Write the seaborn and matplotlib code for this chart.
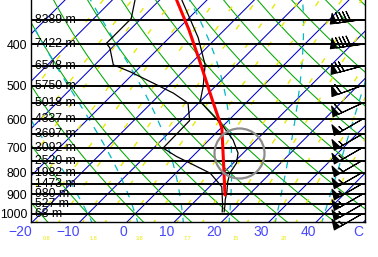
import numpy as np
import pandas as pd
import matplotlib
matplotlib.use("Agg")
import matplotlib.pyplot as plt
import matplotlib.transforms as mtransforms
import seaborn as sns

# ---------------- data ----------------
level_p = [350, 400, 450, 500, 550, 600, 650, 700, 750, 800, 850, 900, 950, 1000]
level_heights = ["8389 m", "7422 m", "6548 m", "5750 m", "5018 m", "4337 m", "3697 m",
                 "3092 m", "2520 m", "1982 m", "1473 m", "980 m", "527 m", "68 m"]
pressure_ticks = [400, 500, 600, 700, 800, 900, 1000]
temp_ticks = [-20, -10, 0, 10, 20, 30, 40, 50]
temp_tick_labels = ["\u221220", "\u221210", "0", "10", "20", "30", "40", "C"]

temp_p = [990, 950, 928, 887, 841, 802, 760, 720, 671, 624, 545, 503, 447, 386, 315]
temp_t = [18.4, 17.0, 16.1, 14.7, 12.8, 11.4, 10.7, 8.9, 5.1, 0.2, -10.0, -12.5, -16.7, -23.9, -35.3]

dew_p = [990, 953, 864, 803, 754, 734, 701, 604, 550, 521, 498, 464, 447, 408, 398, 348, 315]
dew_t = [18.0, 16.6, 12.6, 7.3, -0.1, -3.3, -8.0, -8.2, -12.2, -17.4, -22.7, -31.1, -36.1,
         -40.4, -42.1, -42.1, -45.2]

parcel_p = [903, 748, 629, 541, 440, 370, 315]
parcel_t = [15.0, 7.3, 0.2, -7.7, -18.4, -27.5, -36.4]

marker_p = [720]
marker_t = [9.1]

wind_p = [350, 400, 450, 500, 550, 600, 650, 700, 750, 800, 850, 900, 950, 1000]
wind_spd = [90, 90, 70, 60, 60, 55, 55, 55, 55, 55, 55, 55, 55, 55]
wind_dir = [262, 262, 255, 250, 245, 240, 240, 240, 240, 240, 240, 240, 240, 240]

isotherm_t = list(range(-110, 60, 10))
dry_theta = list(range(-30, 170, 10))
moist_thetaw = [-10, 0, 10, 20, 30, 40]
mixing_w = [0.1, 0.2, 0.3, 0.5, 0.8, 1.2, 1.8, 2.6, 3.8, 5.5, 7.7, 11, 15, 20, 28, 37, 50]
mixing_labels = [0.1, 0.3, 0.8, 1.8, 3.8, 7.7, 15, 28]

# ---------------- geometry helpers ----------------
P_BOT, P_TOP = 1045.0, 314.9
SKEW = 39.1


def skew_x(t, p):
    return np.asarray(t, float) + SKEW * np.log(P_BOT / np.asarray(p, float))


def moist_adiabat(thw, p_grid):
    Rd, cp, Lv, eps = 287.04, 1005.7, 2.501e6, 0.622

    def dTdp(T, p):
        es = 6.112 * np.exp(17.67 * (T - 273.15) / (T - 29.65))
        rs = eps * es / (p - es)
        return (Rd * T + Lv * rs) / (p * (cp + Lv * Lv * rs * eps / (Rd * T * T)))

    T = thw + 273.15
    out = [T]
    for i in range(1, len(p_grid)):
        dp = p_grid[i] - p_grid[i - 1]
        k1 = dTdp(T, p_grid[i - 1])
        k2 = dTdp(T + k1 * dp / 2, p_grid[i - 1] + dp / 2)
        T = T + k2 * dp
        out.append(T)
    return np.array(out) - 273.15


def mixing_dewpoint(w, p):
    e = w / 1000.0 * p / (0.622 + w / 1000.0)
    l = np.log(e / 6.112)
    return 243.5 * l / (17.67 - l)


# ---------------- figure ----------------
sns.set_theme(style="white")
plt.rcParams["font.family"] = ["Liberation Sans", "DejaVu Sans"]

fig = plt.figure(figsize=(3.78, 2.57), dpi=100)
ax = fig.add_axes([30.5 / 378, 35 / 257, 334.5 / 378, 222 / 257])
ax.set_yscale("log")
ax.set_ylim(P_BOT, P_TOP)
ax.set_xlim(-20.4, 50.3)

p_fine = np.geomspace(1060, 300, 200)

# isotherms
for t in isotherm_t:
    ax.plot(skew_x([t, t], [1060, 300]), [1060, 300], color="#0000c8", lw=0.75, zorder=1)

# dry adiabats
for th in dry_theta:
    T = (th + 273.15) * (p_fine / 1000.0) ** 0.2857 - 273.15
    ax.plot(skew_x(T, p_fine), p_fine, color="#00a800", lw=0.75, zorder=1)

# moist adiabats
p_up = np.linspace(1000, 300, 300)
p_dn = np.linspace(1000, 1060, 20)
for thw in moist_thetaw:
    Tu = moist_adiabat(thw, p_up)
    Td = moist_adiabat(thw, p_dn)
    pp = np.concatenate([p_dn[::-1], p_up[1:]])
    tt = np.concatenate([Td[::-1], Tu[1:]])
    ax.plot(skew_x(tt, pp), pp, color="#00b8c0", lw=0.9, dashes=(5.5, 6), zorder=1)

# mixing ratio lines
blend_xa = mtransforms.blended_transform_factory(ax.transData, ax.transAxes)
for w in mixing_w:
    Tm = mixing_dewpoint(w, p_fine)
    ax.plot(skew_x(Tm, p_fine), p_fine, color="#e8e800", lw=1.0, dashes=(4, 13), zorder=1)
for w in mixing_labels:
    xb = float(skew_x(mixing_dewpoint(w, P_BOT), P_BOT))
    if -21 < xb < 50:
        ax.text(xb + 2.2, -0.074, f"{w:g}", color="#e8e800", fontsize=4, ha="center", va="center",
                transform=blend_xa, clip_on=False)

# pressure level lines with heights
blend_ad = mtransforms.blended_transform_factory(ax.transAxes, ax.transData)
for p, h in zip(level_p, level_heights):
    ax.axhline(p, color="black", lw=1.4, zorder=2)
    ax.text(0.0135, p, h, color="black", fontsize=8.8, ha="left", va="center", zorder=3,
            transform=blend_ad)

# profiles via seaborn
df_t = pd.DataFrame({"x": skew_x(temp_t, temp_p), "p": temp_p})
df_d = pd.DataFrame({"x": skew_x(dew_t, dew_p), "p": dew_p})
df_parcel = pd.DataFrame({"x": skew_x(parcel_t, parcel_p), "p": parcel_p})
sns.lineplot(data=df_d, x="x", y="p", sort=False, estimator=None, color="black", lw=0.9, ax=ax, zorder=4)
sns.lineplot(data=df_t, x="x", y="p", sort=False, estimator=None, color="black", lw=0.9, ax=ax, zorder=4)
sns.lineplot(data=df_parcel, x="x", y="p", sort=False, estimator=None, color="#ff0000", lw=2.2, ax=ax, zorder=5)

ax.plot(skew_x(marker_t, marker_p), marker_p, "o", ms=36, mfc="none", mec="#8c8c8c", mew=1.6, zorder=5)

# wind barbs
spd = np.array(wind_spd, float)
dr = np.deg2rad(np.array(wind_dir, float))
u = -spd * np.sin(dr)
v = -spd * np.cos(dr)
ax.barbs(np.full(len(wind_p), 49.7), wind_p, u, v, length=6.8, color="black", linewidth=0.8,
         sizes=dict(spacing=0.11, height=0.32, width=0.2), zorder=6, clip_on=False)

# axes styling
ax.yaxis.set_minor_locator(matplotlib.ticker.NullLocator())
ax.set_yticks(pressure_ticks)
ax.set_yticklabels([str(p) for p in pressure_ticks], fontsize=8.8, color="black")
ax.set_xticks(temp_ticks)
ax.set_xticklabels(temp_tick_labels, fontsize=10, color="#4646ff", ha="right")
offset = mtransforms.ScaledTranslation(10.5 / 100, 0, fig.dpi_scale_trans)
for lab in ax.get_xticklabels():
    lab.set_transform(lab.get_transform() + offset)
ax.get_xticklabels()[-1].set_transform(
    ax.get_xticklabels()[-1].get_transform() + mtransforms.ScaledTranslation(3 / 100, 0, fig.dpi_scale_trans))
ax.tick_params(axis="both", length=0)
ax.tick_params(axis="x", pad=2)
ax.tick_params(axis="y", pad=2.4)
ax.set_xlabel("")
ax.set_ylabel("")
for s in ["left", "bottom", "right"]:
    ax.spines[s].set_color("black")
    ax.spines[s].set_linewidth(1.0)
ax.spines["top"].set_visible(False)
ax.grid(False)

fig.savefig("out.png", dpi=100)
